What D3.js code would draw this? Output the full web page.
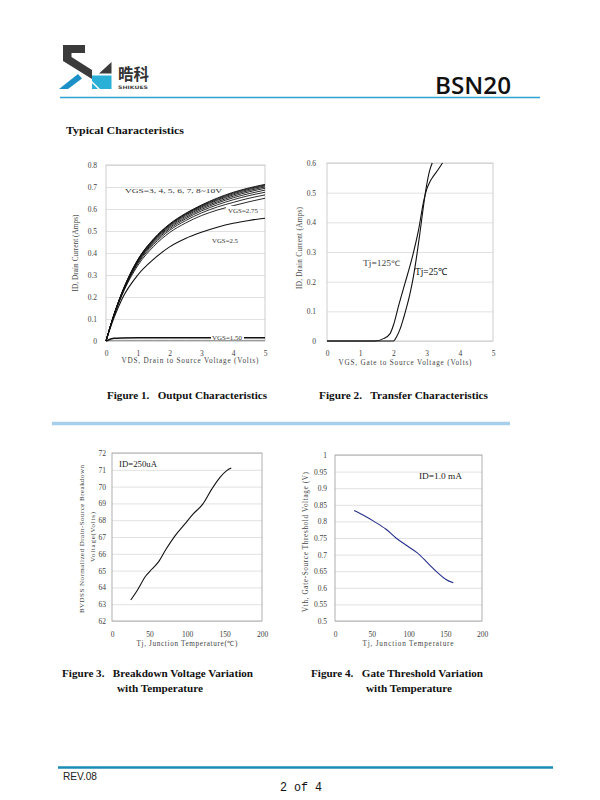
<!DOCTYPE html>
<html>
<head>
<meta charset="utf-8">
<script src="https://cdn.jsdelivr.net/npm/d3@7"></script>
<style>
body { margin: 0; background: #fff; }
text { white-space: pre; }
</style>
</head>
<body>
<svg id="page" width="600" height="800"></svg>
<script>
// ---- Figure 1: output characteristics (ID vs VDS)
var vds = [0, 0.25, 0.5, 1, 1.5, 2, 2.5, 3, 3.5, 4, 4.5, 5];
var id_vgs10  = [0, 0.120, 0.220, 0.370, 0.465, 0.532, 0.580, 0.618, 0.650, 0.676, 0.696, 0.712];
var id_vgs9   = [0, 0.120, 0.219, 0.369, 0.463, 0.530, 0.578, 0.616, 0.647, 0.673, 0.693, 0.709];
var id_vgs8   = [0, 0.119, 0.218, 0.367, 0.461, 0.528, 0.575, 0.613, 0.643, 0.669, 0.689, 0.705];
var id_vgs7   = [0, 0.119, 0.217, 0.365, 0.458, 0.525, 0.572, 0.609, 0.639, 0.664, 0.684, 0.700];
var id_vgs6   = [0, 0.118, 0.216, 0.363, 0.455, 0.521, 0.567, 0.604, 0.633, 0.658, 0.678, 0.694];
var id_vgs5   = [0, 0.118, 0.215, 0.360, 0.451, 0.516, 0.561, 0.598, 0.627, 0.651, 0.670, 0.686];
var id_vgs4   = [0, 0.117, 0.213, 0.356, 0.446, 0.510, 0.555, 0.591, 0.619, 0.642, 0.661, 0.676];
var id_vgs3   = [0, 0.116, 0.211, 0.351, 0.439, 0.503, 0.547, 0.582, 0.609, 0.630, 0.649, 0.664];
var id_vgs275 = [0, 0.114, 0.207, 0.343, 0.430, 0.493, 0.536, 0.570, 0.595, 0.615, 0.633, 0.649];
var id_vgs25  = [0, 0.105, 0.190, 0.300, 0.372, 0.428, 0.466, 0.494, 0.517, 0.535, 0.548, 0.558];
var id_vgs15  = [0, 0.012, 0.014, 0.015, 0.015, 0.015, 0.015, 0.015, 0.015, 0.015, 0.015, 0.015];
var id_vgs1   = [0, 0.003, 0.003, 0.003, 0.003, 0.003, 0.003, 0.003, 0.003, 0.003, 0.003, 0.003];
var fig1Family = [id_vgs10, id_vgs9, id_vgs8, id_vgs7, id_vgs6, id_vgs5, id_vgs4, id_vgs3, id_vgs275];
var fig1XTicks = [0, 1, 2, 3, 4, 5];
var fig1YTicks = [0, 0.1, 0.2, 0.3, 0.4, 0.5, 0.6, 0.7, 0.8];

// ---- Figure 2: transfer characteristics (ID vs VGS)
var vgs_25  = [0, 2.0, 2.1, 2.2, 2.3, 2.4, 2.5, 2.6, 2.7, 2.8, 2.9, 3.0, 3.1, 3.17];
var id_25   = [0, 0, 0.015, 0.04, 0.075, 0.115, 0.16, 0.215, 0.285, 0.365, 0.45, 0.525, 0.578, 0.6];
var vgs_125 = [0, 1.45, 1.7, 1.9, 2.0, 2.15, 2.35, 2.55, 2.75, 2.92, 3.0, 3.1, 3.2, 3.35, 3.48];
var id_125  = [0, 0, 0.008, 0.025, 0.053, 0.116, 0.195, 0.274, 0.37, 0.476, 0.51, 0.537, 0.555, 0.578, 0.6];
var fig2XTicks = [0, 1, 2, 3, 4, 5];
var fig2YTicks = [0, 0.1, 0.2, 0.3, 0.4, 0.5, 0.6];

// ---- Figure 3: breakdown voltage vs temperature
var tj3   = [25, 34, 45, 53, 62, 72, 84, 97, 108, 121, 133, 144, 153, 159];
var bvdss = [63.25, 63.85, 64.68, 65.08, 65.52, 66.27, 67.07, 67.77, 68.36, 68.96, 69.85, 70.55, 70.95, 71.1];
var fig3XTicks = [0, 50, 100, 150, 200];
var fig3YTicks = [62, 63, 64, 65, 66, 67, 68, 69, 70, 71, 72];

// ---- Figure 4: gate threshold vs temperature
var tj4 = [26, 40, 53, 69, 83, 99, 112, 126, 140, 151, 161];
var vth = [0.833, 0.817, 0.800, 0.777, 0.750, 0.725, 0.705, 0.675, 0.645, 0.625, 0.615];
var fig4XTicks = [0, 50, 100, 150, 200];
var fig4YTicks = [0.5, 0.55, 0.6, 0.65, 0.7, 0.75, 0.8, 0.85, 0.9, 0.95, 1];

var svg = d3.select("#page");
svg.append("rect").attr("width", 600).attr("height", 800).attr("fill", "#fff");

var fmt = function(d) { return String(+d.toFixed(2)); };

// draws grid, frame and tick labels, hands back the scales
function panel(box, xDom, yDom, xTicks, yTicks, frameColor, yLabelGap, xLabelGap) {
  var x = d3.scaleLinear().domain(xDom).range([box.x0, box.x1]);
  var y = d3.scaleLinear().domain(yDom).range([box.y1, box.y0]);
  var g = svg.append("g");

  g.append("g")
    .attr("transform", "translate(" + box.x0 + ",0)")
    .call(d3.axisLeft(y).tickValues(yTicks).tickSize(-(box.x1 - box.x0)).tickFormat(""))
    .call(function(a) {
      a.select(".domain").remove();
      a.selectAll("line").attr("stroke", "#d9d9d9").attr("stroke-width", 0.8);
    });

  g.append("rect")
    .attr("x", box.x0).attr("y", box.y0)
    .attr("width", box.x1 - box.x0).attr("height", box.y1 - box.y0)
    .attr("fill", "none").attr("stroke", frameColor).attr("stroke-width", 0.9);

  g.append("g")
    .attr("transform", "translate(" + box.x0 + ",0)")
    .call(d3.axisLeft(y).tickValues(yTicks).tickSize(0).tickPadding(yLabelGap).tickFormat(fmt))
    .call(function(a) {
      a.select(".domain").remove();
      a.selectAll("text").attr("font-family", "Liberation Serif").attr("font-size", 7.5).attr("fill", "#404040");
    });

  g.append("g")
    .attr("transform", "translate(0," + box.y1 + ")")
    .call(d3.axisBottom(x).tickValues(xTicks).tickSize(0).tickPadding(xLabelGap).tickFormat(fmt))
    .call(function(a) {
      a.select(".domain").remove();
      a.selectAll("text").attr("font-family", "Liberation Serif").attr("font-size", 7.5).attr("fill", "#404040");
    });

  return { x: x, y: y, g: g };
}

function label(txt, x, y, size, opts) {
  opts = opts || {};
  var t = svg.append("text")
    .attr("x", x).attr("y", y)
    .attr("font-family", opts.family || "Liberation Serif")
    .attr("font-size", size)
    .attr("fill", opts.fill || "#222")
    .attr("text-anchor", opts.anchor || "start")
    .attr("font-weight", opts.weight || "normal")
    .text(txt);
  if (opts.len) t.attr("textLength", opts.len).attr("lengthAdjust", opts.adjust || "spacingAndGlyphs");
  if (opts.rotate) t.attr("transform", "rotate(-90," + x + "," + y + ")");
  return t;
}

// ---------------- header
var logo = svg.append("g");
logo.append("path").attr("d", "M63,45 L85,45 L85,53 L71.5,53 L71.5,57 L92,70 L92,79 L63,61 Z").attr("fill", "#3b3b3b");
logo.append("path").attr("d", "M59,89 L78,74 L82,78.5 L68,89 Z").attr("fill", "#1e90c8");
logo.append("path").attr("d", "M99,73.5 L111.5,62 L111.5,73.5 Z").attr("fill", "#3b3b3b");
logo.append("path").attr("d", "M92,75.5 L111.5,75.5 L111.5,89 L100,89 L92,81 Z").attr("fill", "#2ab0d6");
logo.append("path").attr("d", "M92,83 L98,89 L92,89 Z").attr("fill", "#2ab0d6");
label("晧科", 118, 80, 15.5, { family: "Noto Sans CJK SC", fill: "#333", weight: "bold" });
label("SHIKUES", 118, 88.5, 4.6, { family: "DejaVu Sans", fill: "#444", weight: "bold", len: 30 });
label("BSN20", 435, 94, 24, { family: "Open Sans", fill: "#111", weight: 600, len: 76 });
svg.append("line").attr("x1", 60).attr("x2", 540).attr("y1", 97.5).attr("y2", 97.5)
  .attr("stroke", "#2ea3cf").attr("stroke-width", 1.6);
label("Typical Characteristics", 66, 134, 11, { weight: "bold", fill: "#111", len: 118 });

// ---------------- Figure 1
var p1 = panel({ x0: 106, x1: 265, y0: 165, y1: 341 }, [0, 5], [0, 0.8], fig1XTicks, fig1YTicks, "#c8c8c8", 9, 10);
var line1 = d3.line()
  .x(function(d, i) { return p1.x(vds[i]); })
  .y(function(d) { return p1.y(d); })
  .curve(d3.curveMonotoneX);
p1.g.append("path").attr("d", line1(id_vgs1)).attr("fill", "none").attr("stroke", "#8c8c8c").attr("stroke-width", 1);
fig1Family.forEach(function(s) {
  p1.g.append("path").attr("d", line1(s)).attr("fill", "none").attr("stroke", "#111").attr("stroke-width", 0.9);
});
p1.g.append("path").attr("d", line1(id_vgs25)).attr("fill", "none").attr("stroke", "#111").attr("stroke-width", 1.1);
p1.g.append("path").attr("d", line1(id_vgs15)).attr("fill", "none").attr("stroke", "#111").attr("stroke-width", 1.5);
svg.append("rect").attr("x", 226).attr("y", 206).attr("width", 33).attr("height", 8).attr("fill", "#fff");
svg.append("rect").attr("x", 211).attr("y", 333).attr("width", 33).attr("height", 7).attr("fill", "#fff");
label("VGS=3, 4, 5, 6, 7, 8~10V", 125, 192.5, 7, { len: 97, fill: "#333" });
label("VGS=2.75", 228, 213, 7, { len: 30, fill: "#333" });
label("VGS=2.5", 212, 242.5, 7, { len: 26, fill: "#333" });
label("VGS=1.50", 212, 339.5, 7, { len: 30, fill: "#333" });
label("VDS, Drain to Source Voltage (Volts)", 190, 363, 7.2, { anchor: "middle", len: 137, adjust: "spacing", fill: "#444" });
label("ID, Drain Current (Amps)", 78, 253, 7.2, { anchor: "middle", len: 77, adjust: "spacing", fill: "#444", rotate: true });
label("Figure 1.   Output Characteristics", 107, 399, 11, { weight: "bold", fill: "#111", len: 160 });

// ---------------- Figure 2
var p2 = panel({ x0: 327, x1: 493, y0: 163, y1: 341 }, [0, 5], [0, 0.6], fig2XTicks, fig2YTicks, "#c8c8c8", 11, 10);
var line2 = d3.line()
  .x(function(d) { return p2.x(d[0]); })
  .y(function(d) { return p2.y(d[1]); })
  .curve(d3.curveMonotoneX);
p2.g.append("path").attr("d", line2(d3.zip(vgs_125, id_125))).attr("fill", "none").attr("stroke", "#111").attr("stroke-width", 1.1);
p2.g.append("path").attr("d", line2(d3.zip(vgs_25, id_25))).attr("fill", "none").attr("stroke", "#111").attr("stroke-width", 1.1);
label("Tj=125℃", 363, 266, 7.5, { len: 37, fill: "#444" });
label("Tj=25℃", 415, 275, 9.5, { len: 32, fill: "#111" });
label("VGS, Gate to Source Voltage (Volts)", 405, 365, 7.2, { anchor: "middle", len: 133, adjust: "spacing", fill: "#444" });
label("ID, Drain Current (Amps)", 302, 248, 7.2, { anchor: "middle", len: 82, adjust: "spacing", fill: "#444", rotate: true });
label("Figure 2.   Transfer Characteristics", 319, 399, 11, { weight: "bold", fill: "#111", len: 169 });

// separator
svg.append("line").attr("x1", 52).attr("x2", 510).attr("y1", 423.5).attr("y2", 423.5)
  .attr("stroke", "#a7cfec").attr("stroke-width", 3.5);

// ---------------- Figure 3
var p3 = panel({ x0: 112, x1: 262, y0: 453, y1: 621 }, [0, 200], [62, 72], fig3XTicks, fig3YTicks, "#a6a6a6", 6, 11);
var line3 = d3.line()
  .x(function(d) { return p3.x(d[0]); })
  .y(function(d) { return p3.y(d[1]); })
  .curve(d3.curveMonotoneX);
p3.g.append("path").attr("d", line3(d3.zip(tj3, bvdss))).attr("fill", "none").attr("stroke", "#111").attr("stroke-width", 1.1);
label("ID=250uA", 119, 467, 8.5, { len: 38, fill: "#222" });
label("Tj, Junction Temperature(℃)", 187, 645.5, 7.2, { anchor: "middle", len: 101, adjust: "spacing", fill: "#444" });
label("BVDSS Normalized Drain-Source Breakdown", 84, 539, 7, { anchor: "middle", len: 148, adjust: "spacing", fill: "#444", rotate: true });
label("Voltage(Volts)", 94.5, 537, 7, { anchor: "middle", len: 50, adjust: "spacing", fill: "#444", rotate: true });
label("Figure 3.   Breakdown Voltage Variation", 62, 677, 11, { weight: "bold", fill: "#111", len: 191 });
label("with Temperature", 117, 691.5, 11, { weight: "bold", fill: "#111", len: 86 });

// ---------------- Figure 4
var p4 = panel({ x0: 335, x1: 482, y0: 455, y1: 621 }, [0, 200], [0.5, 1], fig4XTicks, fig4YTicks, "#a6a6a6", 8, 11);
var line4 = d3.line()
  .x(function(d) { return p4.x(d[0]); })
  .y(function(d) { return p4.y(d[1]); })
  .curve(d3.curveMonotoneX);
p4.g.append("path").attr("d", line4(d3.zip(tj4, vth))).attr("fill", "none").attr("stroke", "#26308a").attr("stroke-width", 1.1);
label("ID=1.0 mA", 419, 479, 8, { len: 43, fill: "#222" });
label("Tj, Junction Temperature", 408, 645.5, 7.2, { anchor: "middle", len: 91, adjust: "spacing", fill: "#444" });
label("Vth, Gate-Source Threshold Voltage (V)", 308, 542, 7.2, { anchor: "middle", len: 140, adjust: "spacing", fill: "#444", rotate: true });
label("Figure 4.   Gate Threshold Variation", 311, 677, 11, { weight: "bold", fill: "#111", len: 172 });
label("with Temperature", 366, 691.5, 11, { weight: "bold", fill: "#111", len: 86 });

// ---------------- footer
svg.append("line").attr("x1", 58).attr("x2", 553).attr("y1", 767.5).attr("y2", 767.5)
  .attr("stroke", "#1b8db4").attr("stroke-width", 2.5);
label("REV.08", 63, 780, 10, { family: "Liberation Sans", fill: "#222", len: 34 });
label("2 of 4", 280, 791, 13, { family: "Liberation Mono", fill: "#111", len: 42 });
</script>
</body>
</html>
